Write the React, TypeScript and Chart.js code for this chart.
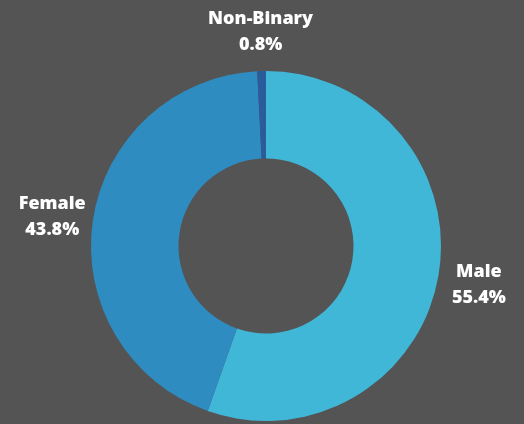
import React, { useEffect, useRef } from "react";
import { Chart, registerables } from "chart.js";

Chart.register(...registerables);

const categories = ["Male", "Female", "Non-Binary"];
const values = [55.4, 43.8, 0.8];
const valueLabels = ["55.4%", "43.8%", "0.8%"];
const colors = ["#41b7d7", "#2e8cc1", "#2a5b9b"];

const labelPlugin = {
  id: "outerLabels",
  afterDraw(chart: any) {
    const ctx = chart.ctx;
    const meta = chart.getDatasetMeta(0);
    ctx.save();
    ctx.fillStyle = "#ffffff";
    ctx.textAlign = "center";
    ctx.textBaseline = "middle";
    ctx.font = "800 18px 'Open Sans'";
    meta.data.forEach((arc: any, i: number) => {
      const p = arc.getProps(["x", "y", "startAngle", "endAngle", "outerRadius"], true);
      const mid = (p.startAngle + p.endAngle) / 2;
      const r = p.outerRadius + 41;
      const px = p.x + Math.cos(mid) * r;
      const py = p.y + Math.sin(mid) * r;
      ctx.fillText(categories[i], px, py - 11);
      ctx.fillText(valueLabels[i], px, py + 15);
    });
    ctx.restore();
  },
};

export default function App() {
  const ref = useRef<HTMLCanvasElement>(null);
  useEffect(() => {
    document.body.style.margin = "0";
    const chart = new Chart(ref.current!, {
      type: "doughnut",
      data: {
        labels: categories,
        datasets: [
          {
            data: values,
            backgroundColor: colors,
            borderWidth: 0,
          },
        ],
      },
      options: {
        responsive: false,
        animation: false,
        cutout: "50%",
        layout: { padding: { top: 71, bottom: 3, left: 8, right: 0 } },
        plugins: { legend: { display: false }, tooltip: { enabled: false } },
      },
      plugins: [labelPlugin],
    });
    return () => chart.destroy();
  }, []);
  return (
    <div style={{ width: 524, height: 424, background: "#545454" }}>
      <canvas ref={ref} width={524} height={424} />
    </div>
  );
}
